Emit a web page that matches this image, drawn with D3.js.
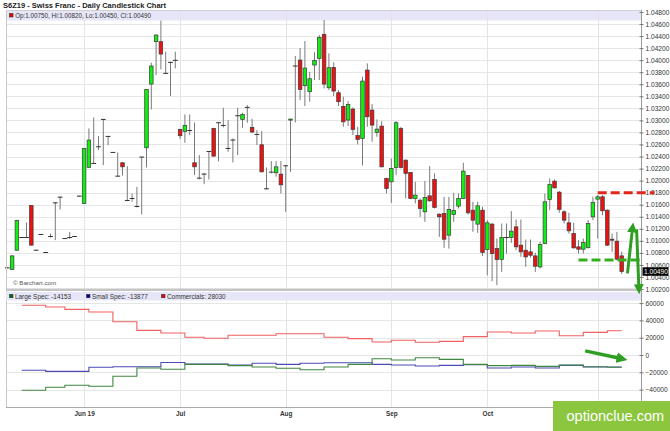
<!DOCTYPE html>
<html><head><meta charset="utf-8">
<script src="https://cdn.jsdelivr.net/npm/d3@7"></script>
<style>
body{margin:0;background:#fff;}
svg{display:block;font-family:"Liberation Sans",Arial,sans-serif;}
</style></head><body>
<svg id="c" width="670" height="431"></svg>
<script>
// ---- calendar (trading days) ----
const firstDay = "2019-05-09", lastDay = "2019-11-08";
const holidays = ["2019-05-27", "2019-07-04", "2019-09-02"];

// ---- daily OHLC (S6Z19) ----
const open = [1.00551,1.00523,1.00844,1.01055,1.01055,1.01587,1.00844,1.01105,1.00806,1.01072,
1.01631,1.01725,1.01038,1.01055,1.01072,1.01742,1.01620,1.02218,1.02285,1.02562,
1.03016,1.02734,1.02468,1.02074,1.02296,1.01670,1.01703,1.01570,1.02390,1.02545,
1.03603,1.04307,1.04307,1.03781,1.03963,1.03997,1.02850,1.02817,1.02833,1.02296,
1.02041,1.02108,1.02484,1.02866,1.02961,1.02916,1.02534,1.02673,1.03077,1.03016,
1.03216,1.02883,1.02767,1.02595,1.01864,1.02141,1.02130,1.02108,1.02246,1.03005,
1.03903,1.04002,1.03576,1.03476,1.03919,1.04030,1.04429,1.03542,1.03880,1.03459,
1.03232,1.03005,1.03188,1.02750,1.02700,1.03836,1.03171,1.02800,1.02905,1.02036,
1.01980,1.02218,1.02866,1.02340,1.02135,1.01703,1.01675,1.01482,1.01747,1.02019,
1.01443,1.01454,1.01094,1.01437,1.01576,1.01703,1.02085,1.01509,1.01277,1.01509,
1.00855,1.01277,1.00872,1.00689,1.01055,1.01055,1.01232,1.00928,1.00844,1.00817,
1.00750,1.00567,1.00955,1.01687,1.01991,1.01808,1.01482,1.01299,1.01121,1.00900,
1.00861,1.00889,1.01398,1.01692,1.01731,1.01509,1.01027,1.00994,1.00750];
const high = [1.00560,1.00761,1.01350,1.01060,1.01304,1.01590,1.00850,1.01110,1.00810,1.01121,
1.01635,1.01731,1.01045,1.01149,1.01078,1.01748,1.02534,1.02866,1.03049,1.02739,
1.03016,1.02739,1.02474,1.02468,1.02307,1.02240,1.01786,1.01897,1.02396,1.03515,
1.03958,1.04429,1.04656,1.04141,1.03974,1.04141,1.02861,1.03099,1.03099,1.02966,
1.02423,1.02130,1.02490,1.02878,1.02972,1.03210,1.03005,1.02701,1.03210,1.03127,
1.03254,1.03027,1.02839,1.02822,1.02218,1.02324,1.02324,1.02324,1.02257,1.03027,
1.04069,1.04202,1.04318,1.03808,1.04130,1.04418,1.04667,1.04113,1.03963,1.03504,
1.03393,1.03321,1.03216,1.02894,1.03725,1.03947,1.03271,1.03016,1.02988,1.02047,
1.02368,1.02988,1.02894,1.02351,1.02140,1.01980,1.01703,1.01991,1.02240,1.02119,
1.01454,1.01731,1.01731,1.01797,1.01786,1.02296,1.02096,1.01648,1.01648,1.01565,
1.01343,1.01299,1.01038,1.01288,1.01288,1.01493,1.01354,1.01354,1.01022,1.01022,
1.00800,1.00983,1.01786,1.02036,1.02019,1.01831,1.01509,1.01465,1.01299,1.01011,
1.01038,1.01343,1.01731,1.01759,1.01759,1.01520,1.01121,1.01149,1.00820];
const low = [1.00545,1.00512,1.00835,1.01050,1.01050,1.00925,1.00840,1.01100,1.00800,1.01055,
1.01011,1.01520,1.01030,1.01033,1.01066,1.01736,1.01615,1.02218,1.02274,1.02506,
1.02257,1.02589,1.02462,1.02063,1.02085,1.01659,1.01648,1.01554,1.01437,1.02218,
1.03182,1.03753,1.03847,1.03770,1.03404,1.03864,1.02689,1.02628,1.02756,1.02091,
1.02019,1.01941,1.02019,1.02396,1.02318,1.02883,1.02479,1.02302,1.02423,1.02878,
1.02961,1.02795,1.02589,1.02135,1.01853,1.02119,1.02063,1.01786,1.01482,1.02146,
1.02966,1.03337,1.03238,1.03310,1.03670,1.03670,1.03531,1.03504,1.03404,1.03238,
1.02894,1.02905,1.02756,1.02601,1.02252,1.02894,1.02645,1.02728,1.02218,1.01786,
1.01631,1.02091,1.02202,1.01703,1.01692,1.01620,1.01398,1.01315,1.01648,1.01537,
1.01066,1.00883,1.00872,1.01315,1.01537,1.01692,1.01437,1.01149,1.01132,1.00750,
1.00429,1.00329,1.00263,1.00484,1.00789,1.00966,1.00844,1.00733,1.00567,1.00722,
1.00484,1.00540,1.00944,1.01509,1.01869,1.01465,1.01288,1.01121,1.00872,1.00789,
1.00789,1.00872,1.01343,1.01038,1.01426,1.00911,1.00817,1.00678,1.00450];
const close = [1.00551,1.00750,1.01337,1.01055,1.01055,1.00928,1.00844,1.01105,1.00806,1.01072,
1.01631,1.01725,1.01038,1.01055,1.01072,1.01742,1.02534,1.02673,1.02285,1.02562,
1.03016,1.02734,1.02468,1.02074,1.02229,1.01670,1.01703,1.01570,1.02390,1.03515,
1.03903,1.04418,1.04102,1.03781,1.03963,1.03997,1.02745,1.02916,1.02833,1.02229,
1.02041,1.02108,1.02484,1.02407,1.02961,1.02916,1.02534,1.02673,1.03077,1.03099,
1.03216,1.02806,1.02767,1.02146,1.01864,1.02141,1.02229,1.01930,1.02246,1.03022,
1.03903,1.03515,1.03869,1.03692,1.03997,1.04379,1.03603,1.03875,1.03487,1.03310,
1.02977,1.03265,1.02850,1.02684,1.03653,1.03060,1.02922,1.02855,1.02229,1.01869,
1.02202,1.02961,1.02218,1.02119,1.01703,1.01759,1.01537,1.01720,1.01664,1.01554,
1.01398,1.01027,1.01520,1.01504,1.01703,1.02157,1.01465,1.01343,1.01581,1.00806,
1.01299,1.00789,1.00689,1.01055,1.01055,1.01160,1.00900,1.00817,1.00733,1.00761,
1.00578,1.00939,1.01648,1.01936,1.01880,1.01520,1.01343,1.01166,1.00883,1.00861,
1.00972,1.01288,1.01637,1.01731,1.01498,1.00928,1.01011,1.00695,1.00490];

// ---- weekly COT positions ----
const cotDates = ["2019-05-14","2019-05-21","2019-05-28","2019-06-04","2019-06-11","2019-06-18","2019-06-25",
"2019-07-02","2019-07-09","2019-07-16","2019-07-23","2019-07-30","2019-08-06","2019-08-13","2019-08-20",
"2019-08-27","2019-09-03","2019-09-10","2019-09-17","2019-09-24","2019-10-01","2019-10-08","2019-10-15",
"2019-10-22","2019-10-29","2019-11-05"];
const largeSpec = [-40800,-37300,-35000,-36200,-24600,-15000,-16500,-10800,-10800,-12300,-13900,-15400,-17000,
-13900,-10800,-4300,-5800,-3100,-5000,-10800,-12300,-12000,-13100,-11500,-13500,-14153];
const smallSpec = [-17700,-18900,-18900,-14200,-13500,-13500,-8700,-10600,-10600,-11500,-9600,-10800,-9600,
-8900,-8900,-10800,-11500,-12700,-12000,-11200,-15000,-13900,-15000,-12000,-13900,-13877];
const commercials = [57500,55500,52800,49700,38500,28500,25400,20500,19300,22800,22900,24600,24600,
20500,18900,15000,17000,14700,15800,21200,26600,25400,27700,22300,26200,28030];

// ---- ticks / labels ----
const priceTicks = [1.048,1.046,1.044,1.042,1.040,1.038,1.036,1.034,1.032,1.030,1.028,1.026,1.024,1.022,1.020,
1.018,1.016,1.014,1.012,1.010,1.008,1.006,1.004,1.002];
const cotTicks = [60000,40000,20000,0,-20000,-40000];
const monthTicks = ["2019-06-03","2019-07-01","2019-08-01","2019-09-03","2019-10-01","2019-11-01"];
const monthLabels = ["Jun 19","Jul","Aug","Sep","Oct",""];
const title = "S6Z19 - Swiss Franc - Daily Candlestick Chart";

// annotations (price levels and arrows drawn by the publisher)
const levels = [{price:1.0180, from:123, to:134.8, color:"#e3261c"},
                {price:1.0068, from:119, to:131.8, color:"#35ad1f"}];
const priceArrows = [{x0:129.2,y0:1.0046,x1:130.3,y1:1.0124},{x0:131.1,y0:1.0119,x1:131.6,y1:1.0018}];
const cotArrows = [{x0:120.4,y0:4800,x1:128.3,y1:-4600}];

// ---------------------------------------------------------------
const fmt = d3.utcFormat("%Y-%m-%d");
const dates = d3.utcDay.range(new Date(firstDay), d3.utcDay.offset(new Date(lastDay),1))
  .filter(d => d.getUTCDay() % 6 !== 0 && !holidays.includes(fmt(d))).map(fmt);
const candles = dates.map((d,i)=>({d, o:open[i], h:high[i], l:low[i], c:close[i]}));

const L = 6, R = 641;
const x = d3.scalePoint().domain(dates).range([7.3, 621.7]);
const xi = d3.scaleLinear().domain([0, dates.length-1]).range([7.3, 621.7]);
const yP = d3.scaleLinear().domain([1.002, 1.048]).range([289, 12]);
const yC = d3.scaleLinear().domain([-40000, 60000]).range([389.6, 303.1]);

const svg = d3.select("#c");
svg.append("rect").attr("width",670).attr("height",431).attr("fill","#fff");

const defs = svg.append("defs");
defs.append("marker").attr("id","ah").attr("viewBox","0 0 10 10").attr("refX",6).attr("refY",5)
  .attr("markerWidth",10).attr("markerHeight",10).attr("markerUnits","userSpaceOnUse").attr("orient","auto")
  .append("path").attr("d","M0,0L10,5L0,10z").attr("fill","#2f9e22");
defs.append("marker").attr("id","ah2").attr("viewBox","0 0 10 10").attr("refX",6).attr("refY",5)
  .attr("markerWidth",11).attr("markerHeight",11).attr("markerUnits","userSpaceOnUse").attr("orient","auto")
  .append("path").attr("d","M0,0L10,5L0,10z").attr("fill","#2f9e22");

// gridlines upper
svg.append("g").selectAll("line").data(priceTicks).join("line")
  .attr("x1",L).attr("x2",R).attr("y1",d=>Math.round(yP(d))+0.5).attr("y2",d=>Math.round(yP(d))+0.5)
  .attr("stroke","#e6e6e6");
// legend band upper
svg.append("rect").attr("x",L).attr("y",10.5).attr("width",R-L).attr("height",10).attr("fill","#e6e6f8");
// gridlines lower
svg.append("g").selectAll("line").data(cotTicks).join("line")
  .attr("x1",L).attr("x2",R).attr("y1",d=>Math.round(yC(d))+0.5).attr("y2",d=>Math.round(yC(d))+0.5)
  .attr("stroke","#e6e6e6");
// vertical month gridlines
const vg = svg.append("g");
monthTicks.forEach(m=>{
  const xx = Math.round(x(m))+0.5;
  vg.append("line").attr("x1",xx).attr("x2",xx).attr("y1",10.5).attr("y2",289).attr("stroke","#e4e4e4");
  vg.append("line").attr("x1",xx).attr("x2",xx).attr("y1",300).attr("y2",407).attr("stroke","#e4e4e4");
});

// candles
const cg = svg.append("g");
cg.selectAll("line.w").data(candles).join("line").attr("class","w")
  .attr("x1",d=>x(d.d)).attr("x2",d=>x(d.d)).attr("y1",d=>yP(d.h)).attr("y2",d=>yP(d.l))
  .attr("stroke","#7a7a7a").attr("stroke-width",1);
const bw = 3.6;
cg.selectAll("rect.b").data(candles.filter(d=>Math.abs(d.o-d.c)>0.00004)).join("rect").attr("class","b")
  .attr("x",d=>x(d.d)-bw/2).attr("width",bw)
  .attr("y",d=>yP(Math.max(d.o,d.c))).attr("height",d=>Math.max(1,Math.abs(yP(d.o)-yP(d.c))))
  .attr("fill",d=>d.c>d.o?"#11ee11":"#ee1111").attr("stroke","#3a3a3a").attr("stroke-width",0.7);
cg.selectAll("line.dj").data(candles.filter(d=>Math.abs(d.o-d.c)<=0.00004)).join("line").attr("class","dj")
  .attr("x1",d=>x(d.d)-2.4).attr("x2",d=>x(d.d)+2.4).attr("y1",d=>yP(d.c)).attr("y2",d=>yP(d.c))
  .attr("stroke","#333").attr("stroke-width",1);

// frame
svg.append("line").attr("x1",L+0.5).attr("x2",L+0.5).attr("y1",10).attr("y2",407).attr("stroke","#c8c8c8");
svg.append("line").attr("x1",L).attr("x2",R).attr("y1",10.5).attr("y2",10.5).attr("stroke","#d0d0d0");
svg.append("rect").attr("x",L).attr("y",288.5).attr("width",R-L).attr("height",2.5).attr("fill","#c4c4c4");
svg.append("rect").attr("x",L).attr("y",292).attr("width",R-L).attr("height",8.5).attr("fill","#e6e6f8");

// upper axis
const ay = svg.append("g").attr("transform",`translate(${R+0.5},0)`)
  .call(d3.axisRight(yP).tickValues(priceTicks).tickFormat(d3.format(".5f")).tickSize(2).tickPadding(2));
ay.select(".domain").attr("stroke","#9a9a9a").attr("d","M0,10V289");
ay.selectAll(".tick line").attr("stroke","#777").attr("x1",-2);
ay.selectAll("text").attr("font-size","6.6px").attr("fill","#333").attr("font-family","Liberation Sans, Arial");

// lower axis
const ac = svg.append("g").attr("transform",`translate(${R+0.5},0)`)
  .call(d3.axisRight(yC).tickValues(cotTicks).tickFormat(d3.format("d")).tickSize(2).tickPadding(2));
ac.select(".domain").attr("stroke","#9a9a9a").attr("d","M0,289V407");
ac.selectAll(".tick line").attr("stroke","#777").attr("x1",-2);
ac.selectAll("text").attr("font-size","6.6px").attr("fill","#333").attr("font-family","Liberation Sans, Arial");

// bottom axis
const ax = svg.append("g").attr("transform","translate(0,407.5)")
  .call(d3.axisBottom(x).tickValues(monthTicks).tickFormat((d,i)=>monthLabels[i]).tickSize(0).tickPadding(4));
ax.select(".domain").attr("stroke","#aaa").attr("d",`M${L},0H${R}`);
ax.selectAll("text").attr("font-size","6.4px").attr("font-weight","bold").attr("fill","#333")
  .attr("font-family","Liberation Sans, Arial");

// COT step lines
const cotX = d => x(d);
const series = [
  {name:"Commercials", vals:commercials, color:"#f06060"},
  {name:"Small Spec", vals:smallSpec, color:"#4b4bb5"},
  {name:"Large Spec", vals:largeSpec, color:"#3f873f"}];
const line = d3.line().x(p=>p[0]).y(p=>yC(p[1])).curve(d3.curveStepAfter);
series.forEach(s=>{
  const pts = cotDates.map((d,i)=>[cotX(d), s.vals[i]]);
  pts.push([x(dates[dates.length-1]), s.vals[s.vals.length-1]]);
  svg.append("path").attr("d",line(pts)).attr("fill","none").attr("stroke",s.color).attr("stroke-width",1.1);
});

// titles and legends
svg.append("text").attr("x",3).attr("y",7.6).attr("font-size","7.5px").attr("font-weight","bold")
  .attr("fill","#222").text(title);
const last = candles[candles.length-1];
svg.append("rect").attr("x",9.5).attr("y",13.5).attr("width",3.5).attr("height",3.5)
  .attr("fill",last.c>last.o?"#11ee11":"#e00").attr("stroke","#333").attr("stroke-width",0.6);
const f5 = d3.format(".5f");
svg.append("text").attr("x",15.2).attr("y",17.8).attr("font-size","6.3px").attr("fill","#333")
  .text(`Op:${f5(last.o)}, Hi:${f5(last.h)}, Lo:${f5(last.l)}, Cl:${f5(last.c)}`);

const legItems = [
  {x:9, color:"#006600", label:"Large Spec: "+largeSpec[largeSpec.length-1]},
  {x:86, color:"#000099", label:"Small Spec: "+smallSpec[smallSpec.length-1]},
  {x:161, color:"#dd0000", label:"Commercials: "+commercials[commercials.length-1]}];
legItems.forEach(it=>{
  svg.append("rect").attr("x",it.x+0.5).attr("y",294.3).attr("width",3.5).attr("height",3.5)
    .attr("fill",it.color).attr("stroke","#333").attr("stroke-width",0.5);
  svg.append("text").attr("x",it.x+6).attr("y",298.6).attr("font-size","6.4px").attr("fill","#333").text(it.label);
});

svg.append("text").attr("x",13).attr("y",285).attr("font-size","6.2px").attr("fill","#555").text("\u00a9 Barchart.com");

// last price flag
svg.append("rect").attr("x",642.5).attr("y",yP(last.c)-4.2).attr("width",26).attr("height",8.4).attr("fill","#000");
svg.append("text").attr("x",644).attr("y",yP(last.c)+2.3).attr("font-size","6.6px").attr("fill","#fff").text(f5(last.c));

// annotations
levels.forEach(lv=>{
  svg.append("line").attr("x1",xi(lv.from)).attr("x2",xi(lv.to)).attr("y1",yP(lv.price)).attr("y2",yP(lv.price))
    .attr("stroke",lv.color).attr("stroke-width",3).attr("stroke-dasharray","9,4");
});
priceArrows.forEach(a=>{
  svg.append("line").attr("x1",xi(a.x0)).attr("y1",yP(a.y0)).attr("x2",xi(a.x1)).attr("y2",yP(a.y1))
    .attr("stroke","#2f9e22").attr("stroke-width",3).attr("marker-end","url(#ah)");
});
cotArrows.forEach(a=>{
  svg.append("line").attr("x1",xi(a.x0)).attr("y1",yC(a.y0)).attr("x2",xi(a.x1)).attr("y2",yC(a.y1))
    .attr("stroke","#2f9e22").attr("stroke-width",3.5).attr("marker-end","url(#ah2)");
});

// publisher logo
svg.append("rect").attr("x",553).attr("y",401).attr("width",117).attr("height",30).attr("fill","#8cc63f");
svg.append("text").attr("x",566.5).attr("y",420.8).attr("font-size","14.5px").attr("fill","#fff").text("optionclue.com");
</script>
</body></html>
